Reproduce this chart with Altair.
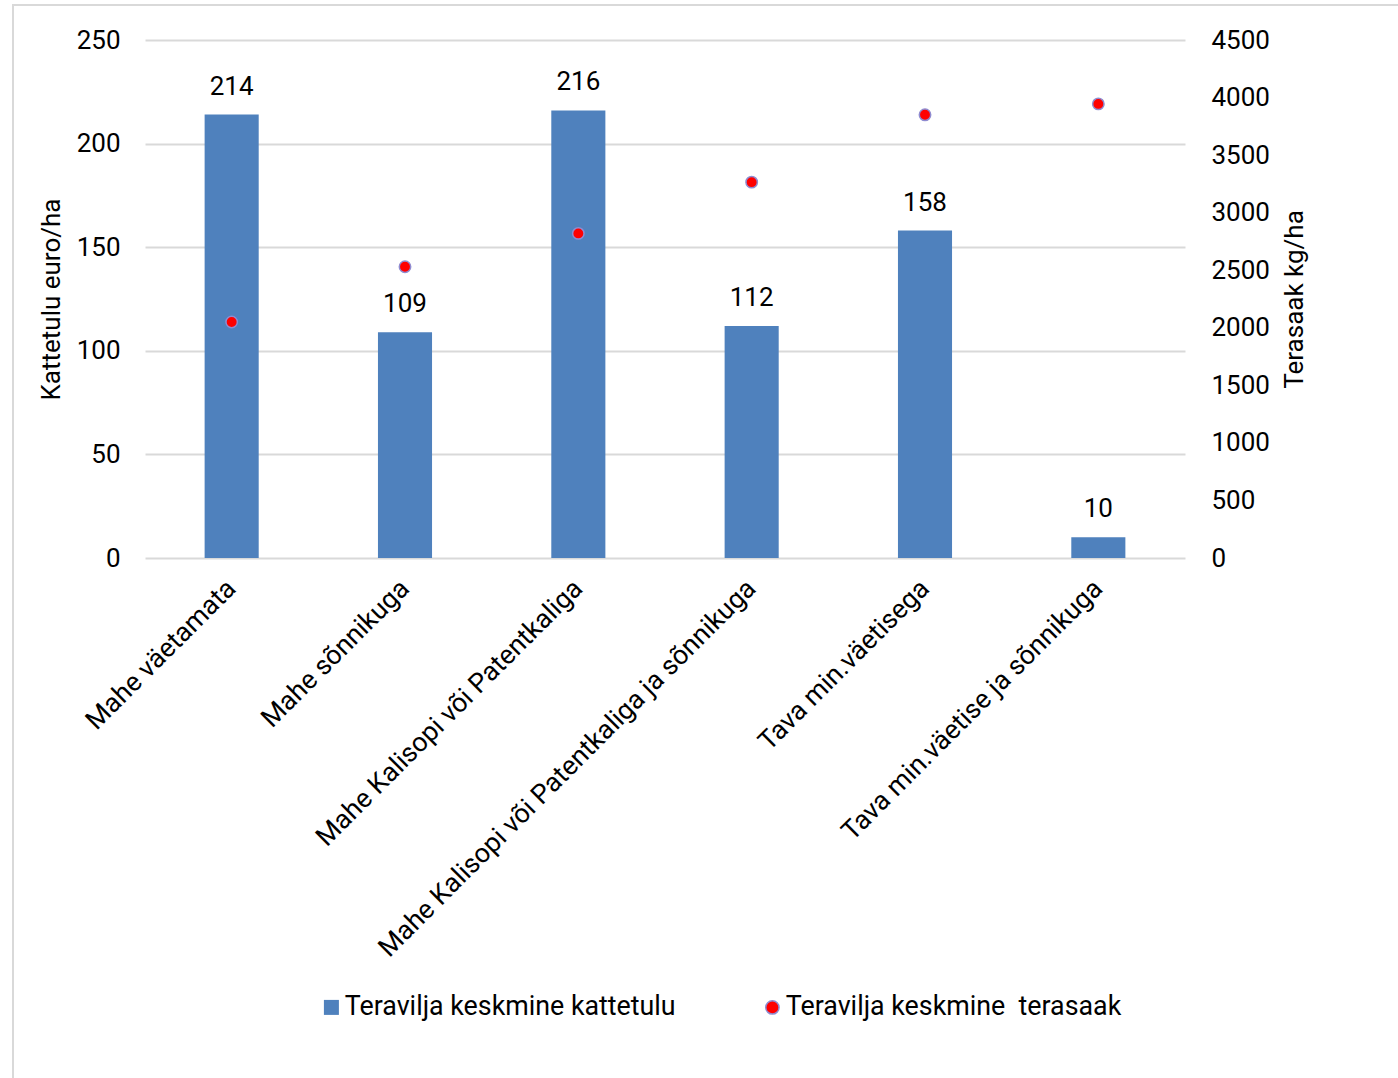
import altair as alt
import pandas as pd

# Treatment groups along the x axis
categories = [
    "Mahe väetamata",
    "Mahe sõnnikuga",
    "Mahe Kalisopi või Patentkaliga",
    "Mahe Kalisopi või Patentkaliga ja sõnnikuga",
    "Tava min.väetisega",
    "Tava min.väetise ja sõnnikuga",
]
# Average gross margin of cereals, euro/ha (left axis)
kattetulu = [214, 109, 216, 112, 158, 10]
# Average grain yield, kg/ha (right axis)
terasaak = [2050, 2530, 2820, 3265, 3850, 3945]

bar_series = "Teravilja keskmine kattetulu"
dot_series = "Teravilja keskmine\u00a0 terasaak"

FONT = "Roboto"
FS = 26
FS_CAT = 26.7
FS_LEG = 26.8
BAR_COLOR = "#4F81BD"
DOT_FILL = "#FF0000"
DOT_STROKE = "#8f8bd0"
GRID = "#d9d9d9"

df = pd.DataFrame({
    "kategooria": categories,
    "kattetulu": kattetulu,
    "terasaak": terasaak,
    "bar_series": [bar_series] * len(categories),
    "dot_series": [dot_series] * len(categories),
})

x_enc = alt.X(
    "kategooria:N",
    sort=categories,
    scale=alt.Scale(paddingInner=0.688, paddingOuter=0.344),
    axis=alt.Axis(
        title=None,
        labelAngle=-45,
        labelAlign="right",
        labelBaseline="middle",
        labelFont=FONT,
        labelFontSize=FS_CAT,
        labelColor="#000000",
        labelPadding=26,
        labelLimit=0,
        ticks=False,
        domain=False,
        grid=False,
    ),
)

y_left = alt.Y(
    "kattetulu:Q",
    scale=alt.Scale(domain=[0, 250], nice=False),
    axis=alt.Axis(
        title="Kattetulu euro/ha",
        values=[0, 50, 100, 150, 200, 250],
        titleFont=FONT,
        titleFontSize=FS,
        titleFontWeight="normal",
        titleColor="#000000",
        titlePadding=12,
        labelFont=FONT,
        labelFontSize=FS,
        labelColor="#000000",
        labelPadding=25,
        ticks=False,
        domain=False,
        grid=True,
        gridColor=GRID,
        gridWidth=2,
    ),
)

base = alt.Chart(df)

bars = base.mark_bar(color=BAR_COLOR).encode(
    x=x_enc,
    y=y_left,
    color=alt.Color(
        "bar_series:N",
        scale=alt.Scale(range=[BAR_COLOR]),
        legend=alt.Legend(
            title=None,
            orient="none",
            legendX=173,
            legendY=954,
            symbolType="square",
            symbolSize=225,
            symbolStrokeWidth=0,
            labelFont=FONT,
            labelFontSize=FS_LEG,
            labelColor="#000000",
            labelOffset=0,
            labelLimit=0,
            padding=0,
        ),
    ),
)

labels = base.mark_text(
    font=FONT, fontSize=FS, color="#000000", baseline="middle", dy=-28
).encode(
    x=x_enc,
    y=alt.Y("kattetulu:Q"),
    text=alt.Text("kattetulu:Q"),
)

dots = base.mark_circle(
    size=130, opacity=1, stroke=DOT_STROKE, strokeWidth=1.5
).encode(
    x=x_enc,
    y=alt.Y(
        "terasaak:Q",
        scale=alt.Scale(domain=[0, 4500], nice=False),
        axis=alt.Axis(
            orient="right",
            title="Terasaak kg/ha",
            values=list(range(0, 5000, 500)),
            format="d",
            titleFont=FONT,
            titleFontSize=FS,
            titleFontWeight="normal",
            titleColor="#000000",
            titleAngle=270,
            titlePadding=38,
            labelFont=FONT,
            labelFontSize=FS,
            labelColor="#000000",
            labelPadding=26,
            ticks=False,
            domain=False,
            grid=False,
        ),
    ),
    fill=alt.Fill(
        "dot_series:N",
        scale=alt.Scale(range=[DOT_FILL]),
        legend=alt.Legend(
            title=None,
            orient="none",
            legendX=614,
            legendY=954,
            symbolType="circle",
            symbolSize=177,
            symbolStrokeColor=DOT_STROKE,
            symbolStrokeWidth=1.5,
            labelFont=FONT,
            labelFontSize=FS_LEG,
            labelColor="#000000",
            labelOffset=0,
            labelLimit=0,
            padding=0,
        ),
    ),
)

# Outer frame around the whole chart
frame = alt.Chart(alt.Data(values=[{}])).mark_rect(
    filled=False, stroke=GRID, strokeWidth=2
).encode(
    x=alt.value(-132), x2=alt.value(1260),
    y=alt.value(-35), y2=alt.value(1050),
)

chart = (
    alt.layer(frame, alt.layer(bars, labels), dots)
    .resolve_scale(y="independent", color="independent")
    .properties(
        width=1040,
        height=518,
        padding={"left": 145, "top": 40, "right": 213, "bottom": 520},
        autosize=alt.AutoSizeParams(type="none"),
        background="#ffffff",
    )
    .configure_view(stroke=None)
)

chart.save("out.html", embed_options={"renderer": "svg", "actions": False})
